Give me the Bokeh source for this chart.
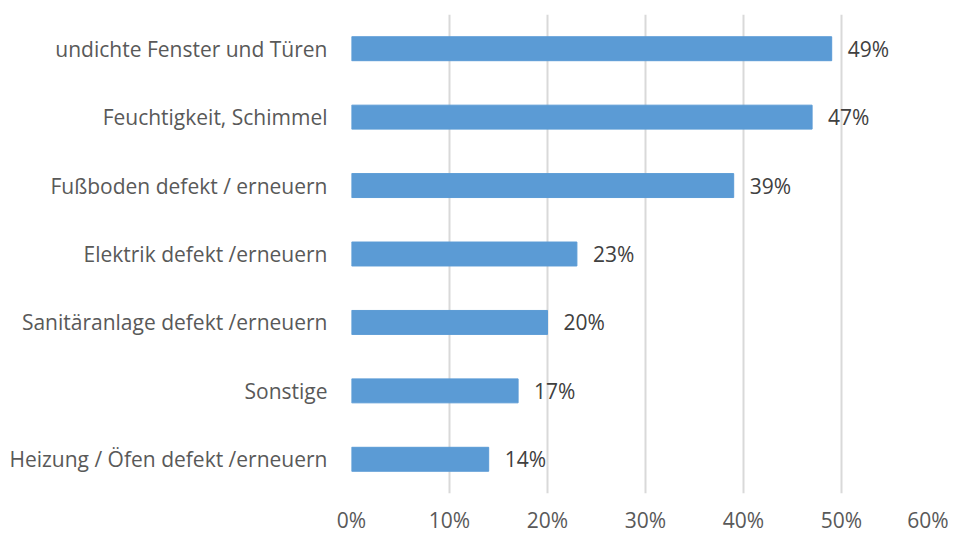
from bokeh.plotting import figure
from bokeh.models import ColumnDataSource, FactorRange, Range1d, NumeralTickFormatter, FixedTicker
from bokeh.core.properties import value
from bokeh.embed import file_html
from bokeh.resources import INLINE

categories = [
    "undichte Fenster und Türen",
    "Feuchtigkeit, Schimmel",
    "Fußboden defekt / erneuern",
    "Elektrik defekt /erneuern",
    "Sanitäranlage defekt /erneuern",
    "Sonstige",
    "Heizung / Öfen defekt /erneuern",
]
values = [0.49, 0.47, 0.39, 0.23, 0.20, 0.17, 0.14]
labels = ["49%", "47%", "39%", "23%", "20%", "17%", "14%"]
x_ticks = [0, 0.1, 0.2, 0.3, 0.4, 0.5, 0.6]

FONT = "Open Sans"

src = ColumnDataSource(dict(cat=categories, val=values, lab=labels))

p = figure(
    width=948, height=536,
    y_range=FactorRange(*reversed(categories)),
    x_range=Range1d(0, 0.6),
    output_backend="svg", toolbar_location=None,
    min_border_left=351, min_border_right=9, min_border_top=14, min_border_bottom=20,
)
p.outline_line_color = None
p.background_fill_color = "white"
p.border_fill_color = "white"

p.hbar(y="cat", right="val", left=0, height=0.35, source=src,
       fill_color="#5b9bd5", line_color="#5b9bd5")

p.text(x="val", y="cat", text="lab", source=src, x_offset=16,
       text_align="left", text_baseline="middle",
       text_font=value(FONT), text_font_size="21px", text_color="#404040")

p.xaxis.ticker = FixedTicker(ticks=x_ticks)
p.xaxis.formatter = NumeralTickFormatter(format="0%")
p.xaxis.axis_line_color = None
p.xaxis.major_tick_line_color = None
p.xaxis.minor_tick_line_color = None
p.xaxis.major_label_text_font = FONT
p.xaxis.major_label_text_font_size = "21px"
p.xaxis.major_label_text_color = "#595959"
p.xaxis.major_label_standoff = 6

p.yaxis.axis_line_color = None
p.yaxis.major_tick_line_color = None
p.yaxis.minor_tick_line_color = None
p.yaxis.major_label_text_font = FONT
p.yaxis.major_label_text_font_size = "21px"
p.yaxis.major_label_text_color = "#595959"
p.yaxis.major_label_standoff = 18

p.xgrid.grid_line_color = "#d9d9d9"
p.xgrid.grid_line_width = 2
p.ygrid.grid_line_color = None

open("out.html", "w").write(file_html(p, INLINE))
